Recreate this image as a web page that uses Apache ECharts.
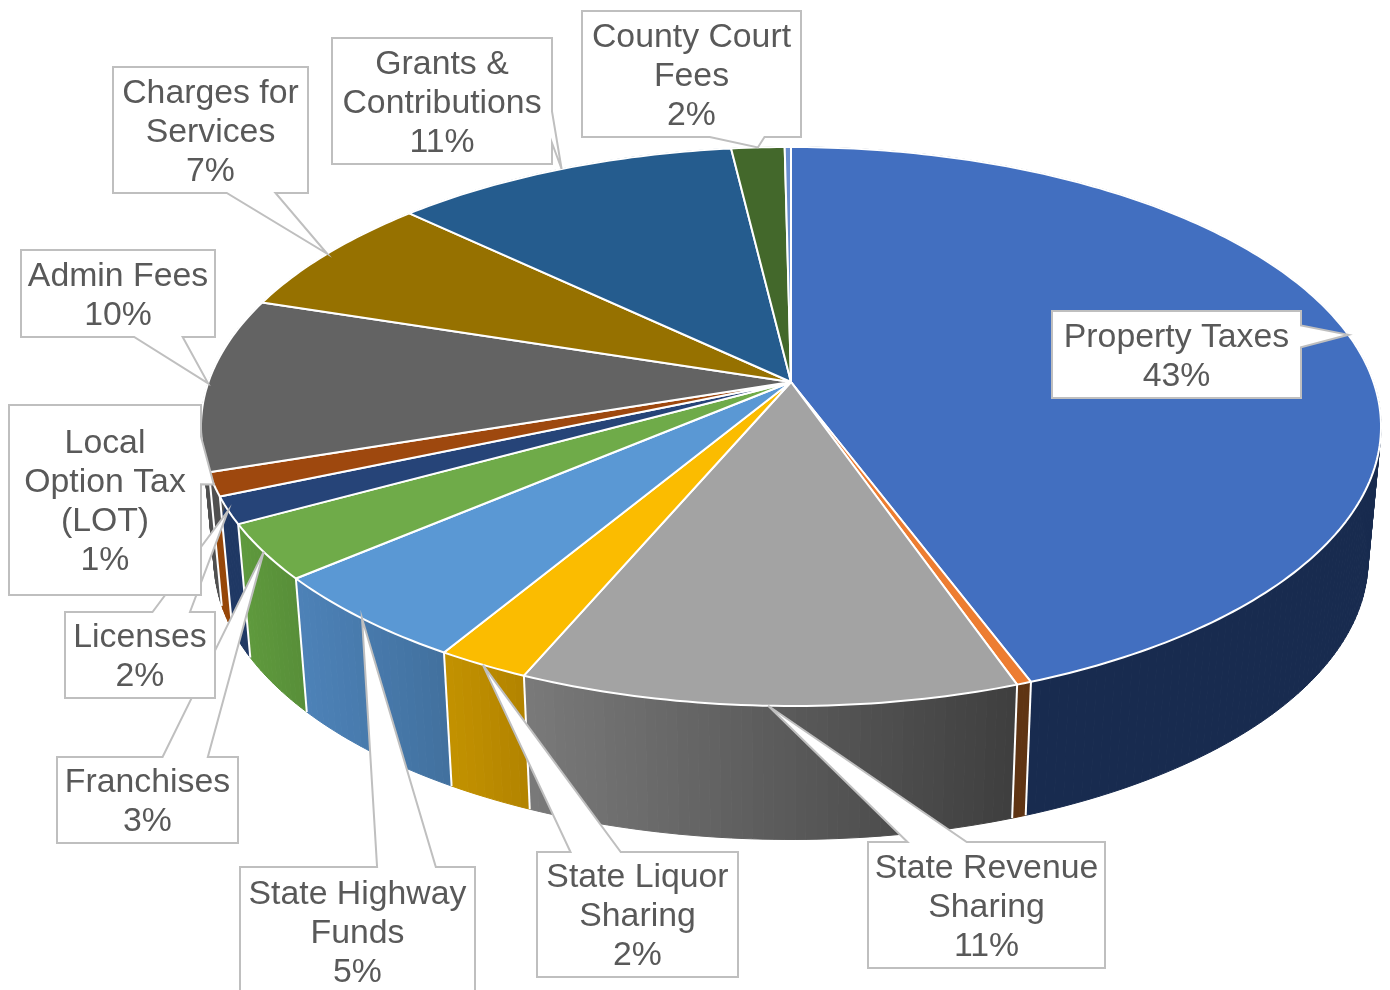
<!DOCTYPE html>
<html>
<head>
<meta charset="utf-8">
<title>Revenue sources</title>
<script src="https://cdn.jsdelivr.net/npm/echarts@6/dist/echarts.min.js"></script>
<style>
  html, body { margin: 0; padding: 0; background: #fff; }
  #chart { width: 1390px; height: 990px; }
</style>
</head>
<body>
<div id="chart"></div>
<script>
// slices go clockwise from 12 o'clock; two thin ones have no callout in the picture
const categories = ['Property Taxes', '', 'State Revenue\nSharing', 'State Liquor\nSharing', 'State Highway\nFunds',
  'Franchises', 'Licenses', 'Local\nOption Tax\n(LOT)', 'Admin Fees', 'Charges for\nServices',
  'Grants &\nContributions', 'County Court\nFees', '']
// share of the circle
const values = [44.3, 0.35, 11.75, 2.2, 5.2, 3.2, 1.55, 1.35, 10.05, 7.1, 11.05, 1.7, 0.2]
// percentages as printed on the callouts
const percentLabels = ['43%', '', '11%', '2%', '5%', '3%', '2%', '1%', '10%', '7%', '11%', '2%', '']

const topColors = ['#426fc0', '#ed7d31', '#a3a3a3', '#fbbc00', '#5a98d4', '#6fab49', '#264478', '#9e480e',
  '#636363', '#967100', '#255c8e', '#43682b', '#698ed0']
const wallColors = [['#182b4f', '#182b4f'], ['#5f3413', '#5f3413'], ['#7a7a7a', '#3f3f3f'], ['#c49300', '#b38400'],
  ['#4d82b8', '#42719f'], ['#5f9a3d', '#588f39'], ['#1f3864', '#1f3864'], ['#964607', '#964607'],
  ['#505050', '#505050'], ['#7a5c00', '#7a5c00'], ['#1e4b74', '#1e4b74'], ['#365322', '#365322'], ['#5472a6', '#5472a6']]

// callout boxes [x, y, w, h], keyed by slice index
const boxes = {
  0: [1052, 311, 249, 87],
  2: [868, 842, 237, 126],
  3: [537, 852, 201, 125],
  4: [240, 867, 235, 128],
  5: [57, 757, 181, 86],
  6: [65, 612, 150, 86],
  7: [9, 405, 192, 190],
  8: [21, 250, 194, 87],
  9: [113, 67, 195, 126],
  10: [332, 38, 220, 126],
  11: [582, 11, 219, 126]
}

// perspective of the disc
const cx = 791
const cy = 382
const persp = 0.1592
const radiusX = 582.5
const radiusY = 272.4
const depth = 133.5
const bottomScale = 0.978

const total = values.reduce((a, b) => a + b, 0)
const starts = []
values.reduce((sum, v, i) => { starts[i] = sum; return sum + v }, 0)

function topPoint(share) {
  const t = share / total * Math.PI * 2
  const d = 1 + persp * Math.cos(t)
  return [cx + radiusX * Math.sin(t) / d, cy - radiusY * Math.cos(t) / d]
}

function bottomPoint(share) {
  const p = topPoint(share)
  return [cx + (p[0] - cx) * bottomScale, p[1] + depth]
}

function shareSteps(from, to) {
  const steps = Math.max(2, Math.ceil((to - from) * 4))
  const out = []
  for (let i = 0; i <= steps; i++) out.push(from + (to - from) * i / steps)
  return out
}

// wall is a run of thin strips, so the silhouette at the far left and right stays filled
function renderWall(params, api) {
  const i = api.value(0)
  const from = starts[i]
  const to = from + api.value(1)
  const xRight = topPoint(from)[0]
  const xLeft = topPoint(to)[0]
  const shares = shareSteps(from, to)
  const children = []
  for (let s = 0; s < shares.length - 1; s++) {
    const a = shares[s]
    const b = shares[s + 1]
    const tx = xRight === xLeft ? 0 : (topPoint(a)[0] - xLeft) / (xRight - xLeft)
    const color = echarts.color.lerp(Math.min(1, Math.max(0, tx)), wallColors[i])
    children.push({
      type: 'polygon',
      shape: { points: [topPoint(a), topPoint(b), bottomPoint(b), bottomPoint(a)] },
      style: { fill: color, stroke: color, lineWidth: 1 }
    })
  }
  return { type: 'group', children }
}

function renderWallEdge(params, api) {
  const share = starts[api.value(0)]
  const p = topPoint(share)
  const q = bottomPoint(share)
  return {
    type: 'line',
    shape: { x1: p[0], y1: p[1], x2: q[0], y2: q[1] },
    style: { stroke: '#fff', lineWidth: 2 }
  }
}

function renderTop(params, api) {
  const i = api.value(0)
  const from = starts[i]
  const points = [[cx, cy]].concat(shareSteps(from, from + api.value(1)).map(topPoint))
  return {
    type: 'polygon',
    shape: { points },
    style: { fill: topColors[i], stroke: '#fff', lineWidth: 2, lineJoin: 'round' }
  }
}

// rectangular callout with a wedge tail, base sits on the side facing the tip
function calloutPoints(box, tip) {
  const [x, y, w, h] = box
  const dx = tip[0] - (x + w / 2)
  const dy = tip[1] - (y + h / 2)
  const alongX = dx > 0 ? [7, 10] : [2, 5]
  const alongY = dy > 0 ? [7, 10] : [2, 5]
  const a = [x + w * alongX[0] / 12, x + w * alongX[1] / 12]
  const b = [y + h * alongY[0] / 12, y + h * alongY[1] / 12]
  const vertical = Math.abs(dy) > Math.abs(dx * h / w)
  const pts = [[x, y]]
  if (vertical && dy < 0) pts.push([a[0], y], tip, [a[1], y])
  pts.push([x + w, y])
  if (!vertical && dx > 0) pts.push([x + w, b[0]], tip, [x + w, b[1]])
  pts.push([x + w, y + h])
  if (vertical && dy > 0) pts.push([a[1], y + h], tip, [a[0], y + h])
  pts.push([x, y + h])
  if (!vertical && dx < 0) pts.push([x, b[1]], tip, [x, b[0]])
  return pts
}

function renderCallout(params, api) {
  const i = api.value(0)
  const box = boxes[i]
  if (!box) return null
  const tip = topPoint(starts[i] + api.value(1) / 2)
  return {
    type: 'group',
    children: [
      {
        type: 'polygon',
        shape: { points: calloutPoints(box, tip) },
        style: { fill: '#fff', stroke: '#bfbfbf', lineWidth: 2, lineJoin: 'miter' }
      },
      {
        type: 'text',
        style: {
          x: box[0] + box[2] / 2,
          y: box[1] + box[3] / 2 + 2.5,
          text: categories[i] + '\n' + percentLabels[i],
          align: 'center',
          verticalAlign: 'middle',
          fontFamily: 'Liberation Sans',
          fontSize: 33.8,
          lineHeight: 39,
          fill: '#595959'
        }
      }
    ]
  }
}

const sliceData = values.map((v, i) => [i, v])

const chart = echarts.init(document.getElementById('chart'), null, { renderer: 'canvas' })
chart.setOption({
  animation: false,
  series: [
    { type: 'custom', coordinateSystem: 'none', silent: true, data: sliceData, renderItem: renderWall, z: 1 },
    { type: 'custom', coordinateSystem: 'none', silent: true, data: sliceData, renderItem: renderWallEdge, z: 2 },
    { type: 'custom', coordinateSystem: 'none', silent: true, data: sliceData, renderItem: renderTop, z: 3 },
    { type: 'custom', coordinateSystem: 'none', silent: true, data: sliceData, renderItem: renderCallout, z: 4 }
  ]
})
</script>
</body>
</html>
